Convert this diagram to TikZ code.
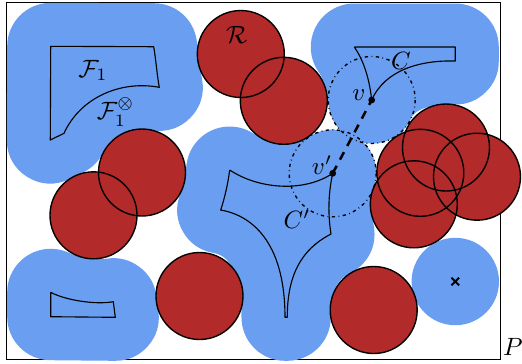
\documentclass[tikz,border=0pt]{standalone}
\usepackage{amsmath,amssymb}
\usepackage{xcolor}
\usepackage{tikz}
\usetikzlibrary{arrows.meta,positioning,calc}
\definecolor{fatblue}{RGB}{106,158,240}
\definecolor{obsred}{RGB}{178,42,42}
\tikzset{
  fatreg/.style={fill=fatblue,draw=fatblue,line width=34.8pt,
                 line join=round,line cap=round},
  piece/.style={draw=black,line width=0.45pt,line join=round},
  obs/.style={fill=obsred},
  obsline/.style={draw=black,line width=0.55pt},
  reach/.style={draw=black,line width=0.55pt,
                dash pattern=on 1.3pt off 1.4pt on 0.3pt off 1.4pt},
  link/.style={draw=black,line width=1pt,dash pattern=on 3.4pt off 2.8pt},
  vtx/.style={circle,fill=black,inner sep=0pt,minimum size=2.7pt},
  lbl/.style={inner sep=0.5pt},
}

\begin{document}
\begin{tikzpicture}[x=0.4pt,y=-0.4pt]
\useasboundingbox (0,0) rectangle (522,363);
% workspace P
\draw[line width=0.45pt] (6.7,2.7) rectangle (500.5,359.5);
% grown free pieces (blue) with the pieces themselves
\draw[piece,preaction={fatreg}] (50.7,46.3) -- (153.7,46.7)
  .. controls (156,60) and (157,75) .. (159.3,87.3)
  .. controls (120,80) and (80,98) .. (64,133.3)
  -- (50.3,140) -- cycle;
\draw[piece,preaction={fatreg}] (354.3,47) -- (455.3,47) -- (455.3,61)
  .. controls (420,60) and (385,70) .. (371.7,100)
  .. controls (369,75) and (362,58) .. (354.3,47);
\draw[piece,preaction={fatreg}] (229.7,170)
  .. controls (260,190) and (305,192) .. (332.7,173.3)
  .. controls (328,195) and (328,215) .. (331,234)
  .. controls (310,245) and (287,265) .. (287.3,317.3)
  -- (285,317.3)
  .. controls (285,240) and (250,215) .. (220.7,210)
  .. controls (225,197) and (228,183) .. (229.7,170);
\draw[piece,preaction={fatreg}] (50.7,292.3) -- (50.7,316.7)
  -- (115.3,317.3) -- (113.3,301.7)
  .. controls (95,305) and (65,300) .. (50.7,292.3);
\fill[fatblue] (455.3,281.5) circle[radius=43.7];
% obstacles (red)
\foreach \cx/\cy in {240.8/54,283.8/100.8,142/172.5,93.5/215.3,
                     199.5/296,373.7/310,446/147.5,477/176.7,
                     420.3/172.8,413.8/204.3}
  \fill[obs] (\cx,\cy) circle[radius=43.5];
\foreach \cx/\cy in {240.8/54,283.8/100.8,142/172.5,93.5/215.3,
                     199.5/296,373.7/310,446/147.5,477/176.7,
                     420.3/172.8,413.8/204.3}
  \draw[obsline] (\cx,\cy) circle[radius=43.5];
% vertices and their reach
\coordinate (v) at (371.7,100);
\coordinate (vp) at (332.7,173.3);
\draw[reach] (v) circle[radius=43.5];
\draw[reach] (vp) circle[radius=43.5];
\draw[link] (vp) -- (v);
\node[vtx] (vdot) at (v) {};
\node[vtx] (vpdot) at (vp) {};
% goal
\coordinate (goal) at (455.3,281.5);
\draw[line width=0.8pt] ($(goal)+(-3.8,-3.8)$) -- ($(goal)+(3.8,3.8)$)
  ($(goal)+(-3.8,3.8)$) -- ($(goal)+(3.8,-3.8)$);
% labels
\node[lbl] (lblR) at (236.7,35) {$\mathcal{R}$};
\node[lbl] (lblF) at (93,70.5) {$\mathcal{F}_1$};
\node[lbl] (lblFx) at (115.5,112) {$\mathcal{F}_1^{\otimes}$};
\node[lbl] (lblC) at (401,61) {$C$};
\node[lbl] (lblCp) at (297,219) {$C'$};
\node[lbl] (lblv) at (359,95) {$v$};
\node[lbl] (lblvp) at (322,165) {$v'$};
\node[lbl] (lblP) at (513,347) {$P$};
\end{tikzpicture}
\end{document}
